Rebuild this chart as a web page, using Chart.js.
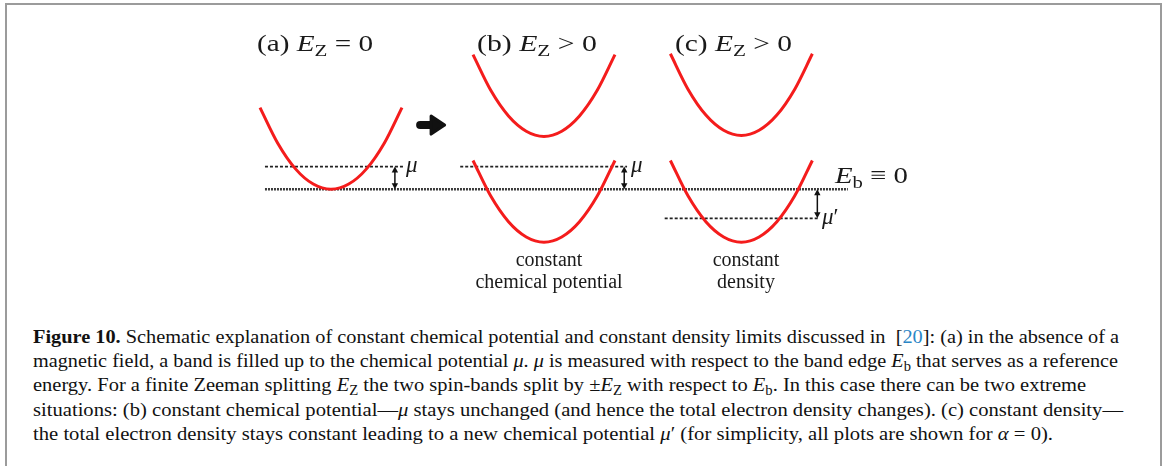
<!DOCTYPE html>
<html><head><meta charset="utf-8">
<script src="https://cdn.jsdelivr.net/npm/chart.js@4.4.0/dist/chart.umd.min.js"></script>
<style>
html,body{margin:0;padding:0;background:#fff;}
body{width:1168px;height:466px;position:relative;overflow:hidden;font-family:"Liberation Serif","Times New Roman",serif;color:#1a1a1a;}
#frame{position:absolute;left:5px;top:3px;width:1153px;height:500px;border:2px solid #9b9b9b;border-bottom:none;}
#wrap{position:absolute;left:0;top:0;width:1168px;height:300px;}
.lbl{position:absolute;white-space:nowrap;line-height:1;transform-origin:0 0;}
.lbl sub{font-size:0.72em;vertical-align:-0.28em;line-height:0;}
.rel{margin:0 0.25em;}
.ref{color:#2a86c6;}
.fig{color:#111;}
</style></head>
<body>
<div id="frame"></div>
<div id="wrap"><canvas id="c" width="1168" height="300"></canvas></div>
<div id="labels"></div>
<script>
// ---- data (energy in units of mu, momentum in units of band half-width) ----
const panelCenter   = [0, 3.0, 5.78];                 // (a), (b), (c)
const bandShapeK    = [-1, -0.75, -0.5, -0.25, 0, 0.25, 0.5, 0.75, 1];
const bandShapeE    = [3.6, 2.03, 0.9, 0.23, 0, 0.23, 0.9, 2.03, 3.6];
const bandMinA      = [0];
const bandMinB      = [2.33, -2.33];
const bandMinC      = [2.37, -2.33];
const chemPotential = [1.0, 1.0, -1.28];              // mu, mu, mu'
const chemLineFrom  = [-0.93, 1.82, 4.70];
const chemLineTo    = [1.03, 4.17, 6.86];
const bandEdge      = 0;                              // E_b = 0
const bandEdgeFrom  = -0.93;
const bandEdgeTo    = 7.28;
const arrowX        = [0.90, 4.13, 6.85];
const shiftArrow    = [1.41, 2.83];
const panelTitles   = ['(a)', '(b)', '(c)'];
const panelRel      = ['=', '>', '>'];
const labelsBelow   = [['constant', 'chemical potential'], ['constant', 'density']];

// ---- build datasets ----
const bandMins = [bandMinA, bandMinB, bandMinC];
const datasets = [];
bandMins.forEach((mins, p) => {
  mins.forEach(m => {
    datasets.push({
      data: bandShapeK.map((k, i) => ({x: panelCenter[p] + k, y: m + bandShapeE[i]})),
      borderColor: '#f41c1c', borderWidth: 3, cubicInterpolationMode: 'monotone', order: 0
    });
  });
});
chemPotential.forEach((mu, i) => {
  datasets.push({
    data: [{x: chemLineFrom[i], y: mu}, {x: chemLineTo[i], y: mu}],
    borderColor: '#222', borderWidth: 1.6, borderDash: [3, 2], order: 2
  });
});
datasets.push({
  data: [{x: bandEdgeFrom, y: bandEdge}, {x: bandEdgeTo, y: bandEdge}],
  borderColor: '#3a3a3a', borderWidth: 2.5, borderDash: [2, 1], order: 2
});
datasets.forEach(d => { d.showLine = true; d.pointRadius = 0; d.fill = false; });

const annot = {
  id: 'annot',
  afterDatasetsDraw(chart) {
    const {ctx, scales: {x, y}} = chart;
    ctx.save();
    ctx.strokeStyle = '#111'; ctx.fillStyle = '#111';
    arrowX.forEach((ax, i) => {
      const px = x.getPixelForValue(ax);
      const y0 = y.getPixelForValue(bandEdge), y1 = y.getPixelForValue(chemPotential[i]);
      const dir = Math.sign(y1 - y0);
      const hl = 6, hw = 3.2;
      ctx.lineWidth = 1.5;
      ctx.beginPath(); ctx.moveTo(px, y0 + dir * 3); ctx.lineTo(px, y1 - dir * 3); ctx.stroke();
      [[y0, -dir], [y1, dir]].forEach(([ty, d]) => {
        ctx.beginPath();
        ctx.moveTo(px, ty);
        ctx.lineTo(px - hw, ty - d * hl);
        ctx.lineTo(px + hw, ty - d * hl);
        ctx.closePath(); ctx.fill();
      });
    });
    // big shift arrow
    const cx = x.getPixelForValue(shiftArrow[0]), cy = y.getPixelForValue(shiftArrow[1]);
    ctx.lineCap = 'round'; ctx.lineJoin = 'round';
    ctx.lineWidth = 8;
    ctx.beginPath(); ctx.moveTo(cx - 11, cy); ctx.lineTo(cx + 2, cy); ctx.stroke();
    ctx.lineWidth = 3;
    ctx.beginPath(); ctx.moveTo(cx, cy - 9); ctx.lineTo(cx + 13.5, cy); ctx.lineTo(cx, cy + 9); ctx.closePath();
    ctx.fill(); ctx.stroke();
    ctx.restore();
  }
};

new Chart(document.getElementById('c'), {
  type: 'scatter',
  data: {datasets},
  options: {
    responsive: false, animation: false, devicePixelRatio: 1,
    layout: {padding: 0},
    plugins: {legend: {display: false}, tooltip: {enabled: false}},
    scales: {
      x: {type: 'linear', display: false, min: -4.662, max: 11.789},
      y: {type: 'linear', display: false, min: -4.877, max: 8.339}
    }
  },
  plugins: [annot]
});

// ---- text ----
const L = document.getElementById('labels');
function place(html, x, base, size, opts = {}) {
  const d = document.createElement('div');
  d.className = 'lbl';
  d.innerHTML = html;
  d.style.fontSize = size + 'px';
  d.style.left = x + 'px';
  d.style.top = (base - 0.8375 * size) + 'px';
  if (opts.bold) d.style.fontWeight = 'bold';
  if (opts.italic) d.style.fontStyle = 'italic';
  L.appendChild(d);
  const w = d.getBoundingClientRect().width;
  let s = 1;
  if (opts.width) s = opts.width / w;
  let tx = 0;
  if (opts.center) tx = -w * s / 2;
  d.style.transform = `translateX(${tx}px) scaleX(${s})`;
  return d;
}
const titleX = [257, 477, 675], titleW = [116, 120, 117];
panelTitles.forEach((t, i) => {
  place(`${t}&nbsp;<i>E</i><sub>Z</sub><span class="rel">${panelRel[i]}</span>0`, titleX[i], 51, 24, {width: titleW[i]});
});
place('<i>μ</i>', 406, 172, 23);
place('<i>μ</i>', 631, 172, 23);
place('<i>μ</i>′', 822, 224, 23);
place('<i>E</i><sub>b</sub><span class="rel">≡</span>0', 835, 183, 24, {width: 73});
const belowX = [549, 746];
labelsBelow.forEach((pair, i) => {
  place(pair[0], belowX[i], 266, 20, {center: true});
  place(pair[1], belowX[i], 288, 20, {center: true});
});

const caption = [
  '<b>Figure 10.</b> Schematic explanation of constant chemical potential and constant density limits discussed in&nbsp; [<span class="ref">20</span>]: (a) in the absence of a',
  'magnetic field, a band is filled up to the chemical potential <i>μ</i>. <i>μ</i> is measured with respect to the band edge <i>E</i><sub>b</sub> that serves as a reference',
  'energy. For a finite Zeeman splitting <i>E</i><sub>Z</sub> the two spin-bands split by ±<i>E</i><sub>Z</sub> with respect to <i>E</i><sub>b</sub>. In this case there can be two extreme',
  'situations: (b) constant chemical potential—<i>μ</i> stays unchanged (and hence the total electron density changes). (c) constant density—',
  'the total electron density stays constant leading to a new chemical potential <i>μ</i>′ (for simplicity, all plots are shown for <i>α</i> = 0).'
];
const capBase = [343, 367.3, 391.6, 415.9, 440.2];
const capRight = [1119, 1118, 1086, 1123, 1053];
caption.forEach((c, i) => place(`<span class="fig">${c}</span>`, 33, capBase[i], 19.5, {width: capRight[i] - 33}));
</script>
</body></html>
